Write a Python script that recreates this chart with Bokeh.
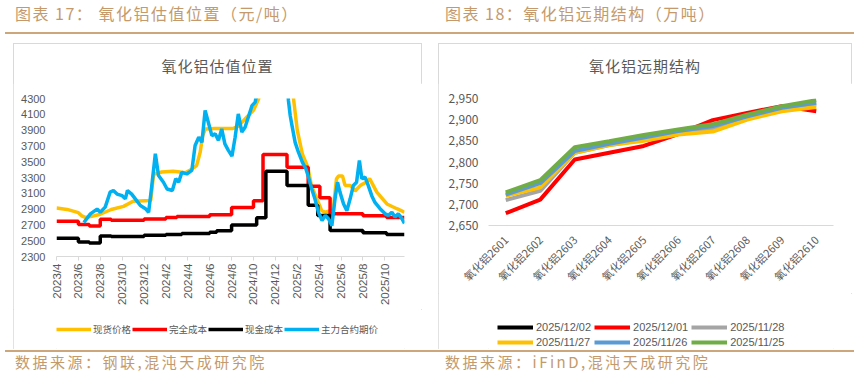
import math
import calendar
from bokeh.plotting import figure
from bokeh.models import (FixedTicker, Legend, LegendItem, Range1d, Div,
                          NumeralTickFormatter, FactorRange)
from bokeh.layouts import column, row
from bokeh.embed import file_html
from bokeh.resources import INLINE

# ---------------- data: left chart (元/吨) ----------------
left_tick_labels = ["2023/4", "2023/6", "2023/8", "2023/10", "2023/12", "2024/2", "2024/4",
                    "2024/6", "2024/8", "2024/10", "2024/12", "2025/2", "2025/4", "2025/6",
                    "2025/8", "2025/10"]
left_y_ticks = [2300, 2500, 2700, 2900, 3100, 3300, 3500, 3700, 3900, 4100, 4300]
left_last_date = "2025-11-25"
left_series_names = ["现货价格", "完全成本", "现金成本", "主力合约期价"]

spot_dates = ["2023-04-01", "2023-04-30", "2023-06-01", "2023-06-10", "2023-06-20", "2023-07-05",
              "2023-08-01", "2023-09-01", "2023-10-05", "2023-11-01", "2023-12-20", "2023-12-28",
              "2024-01-20", "2024-02-20", "2024-03-10", "2024-03-25", "2024-04-10", "2024-04-25",
              "2024-05-05", "2024-05-12", "2024-05-20", "2024-06-15", "2024-07-15", "2024-08-05",
              "2024-08-20", "2024-09-13", "2024-10-01", "2024-10-16", "2024-10-25", "2024-11-15",
              "2024-12-05", "2024-12-25", "2025-01-10", "2025-01-20", "2025-02-01", "2025-02-14",
              "2025-02-28", "2025-03-10", "2025-03-29", "2025-04-08", "2025-04-18", "2025-04-25",
              "2025-05-10", "2025-05-19", "2025-05-25", "2025-06-05", "2025-06-12", "2025-06-26",
              "2025-07-10", "2025-07-25", "2025-08-10", "2025-08-20", "2025-09-09", "2025-10-07",
              "2025-11-04", "2025-11-25"]
spot_vals = [2915, 2896, 2855, 2815, 2795, 2805, 2835, 2895, 2935, 3000, 3010, 3340,
             3370, 3380, 3370, 3360, 3400, 3450, 3620, 3830, 3915, 3920, 3920, 3920,
             3950, 4065, 4150, 4300, 4600, 5300, 5750, 5700, 5000, 4350, 3900, 3600,
             3430, 3200, 2990, 2880, 2860, 2870, 2890, 3280, 3320, 3320, 3200, 3200,
             3130, 3200, 3240, 3285, 3115, 2965, 2905, 2860]

full_dates = ["2023-04-01", "2023-06-01", "2023-07-01", "2023-08-01", "2023-09-01", "2023-12-01",
              "2024-02-01", "2024-03-01", "2024-06-01", "2024-08-01", "2024-10-01", "2024-10-28",
              "2025-01-03", "2025-03-01", "2025-04-03", "2025-05-01", "2025-08-01", "2025-10-06",
              "2025-11-25"]
full_vals = [2745, 2705, 2685, 2770, 2760, 2775, 2795, 2805, 2830, 2920, 3005, 3590,
             3430, 3190, 3045, 2840, 2815, 2795, 2795]

cash_dates = ["2023-04-01", "2023-06-01", "2023-07-01", "2023-08-01", "2023-09-01", "2023-12-01",
              "2024-02-01", "2024-03-15", "2024-06-01", "2024-06-20", "2024-08-01", "2024-10-10",
              "2024-11-05", "2025-01-03", "2025-03-01", "2025-03-28", "2025-05-01", "2025-08-01",
              "2025-10-06", "2025-11-25"]
cash_vals = [2530, 2485, 2470, 2560, 2552, 2570, 2578, 2590, 2608, 2625, 2700, 2790,
             3380, 3200, 2950, 2820, 2630, 2600, 2580, 2580]

fut_dates = ["2023-06-16", "2023-07-04", "2023-07-23", "2023-08-01", "2023-08-15", "2023-08-29",
             "2023-09-07", "2023-09-17", "2023-10-01", "2023-10-10", "2023-10-16", "2023-10-28",
             "2023-11-07", "2023-11-21", "2023-12-05", "2023-12-14", "2023-12-23", "2024-01-02",
             "2024-01-11", "2024-01-25", "2024-02-04", "2024-02-18", "2024-02-27", "2024-03-06",
             "2024-03-15", "2024-03-29", "2024-04-12", "2024-04-21", "2024-05-01", "2024-05-10",
             "2024-05-19", "2024-05-28", "2024-06-07", "2024-06-16", "2024-06-25", "2024-07-04",
             "2024-07-13", "2024-07-22", "2024-08-02", "2024-08-11", "2024-08-20", "2024-08-30",
             "2024-09-08", "2024-09-17", "2024-09-27", "2024-10-06", "2024-10-15", "2024-11-01",
             "2024-11-20", "2024-12-05", "2024-12-20", "2025-01-02", "2025-01-07", "2025-01-12",
             "2025-01-17", "2025-01-26", "2025-02-04", "2025-02-14", "2025-02-23", "2025-03-02",
             "2025-03-11", "2025-03-20", "2025-03-30", "2025-04-09", "2025-04-18", "2025-04-27",
             "2025-05-06", "2025-05-15", "2025-05-22", "2025-05-29", "2025-06-08", "2025-06-17",
             "2025-06-26", "2025-07-05", "2025-07-14", "2025-07-22", "2025-07-29", "2025-08-07",
             "2025-08-16", "2025-08-26", "2025-09-04", "2025-09-18", "2025-10-02", "2025-10-11",
             "2025-10-21", "2025-10-30", "2025-11-08", "2025-11-18", "2025-11-25"]
fut_vals = [2730, 2840, 2900, 2860, 2925, 3115, 3135, 3090, 3070, 3030, 3135, 3090,
            3030, 2945, 2905, 2860, 3200, 3600, 3325, 3240, 3155, 3135, 3285, 3240,
            3365, 3345, 3390, 3705, 3810, 3745, 4150, 4000, 3830, 3855, 3770, 3915,
            3725, 3650, 3570, 3810, 4105, 3875, 3935, 4065, 4210, 4255, 4500, 5000,
            5600, 5500, 5200, 4600, 4275, 4085, 3960, 3745, 3620, 3495, 3410, 3305,
            3155, 3030, 2860, 2755, 2820, 2775, 2690, 3030, 3240, 3115, 2965, 2880,
            3030, 3200, 3240, 3515, 3285, 3305, 3200, 3070, 2985, 2905, 2840, 2820,
            2860, 2800, 2840, 2780, 2720]

# ---------------- data: right chart ----------------
contracts = ["氧化铝2601", "氧化铝2602", "氧化铝2603", "氧化铝2604", "氧化铝2605",
             "氧化铝2606", "氧化铝2607", "氧化铝2608", "氧化铝2609", "氧化铝2610"]
curve_names = ["2025/12/02", "2025/12/01", "2025/11/28", "2025/11/27", "2025/11/26", "2025/11/25"]
nan = float("nan")
curve_1202 = [nan] * 10
curve_1201 = [2679, 2711, 2806, 2822, 2838, 2866, 2899, 2916, 2932, 2920]
curve_1128 = [2710, 2732, 2822, 2840, 2852, 2868, 2880, 2905, 2926, 2936]
curve_1127 = [2720, 2740, 2822, 2840, 2850, 2865, 2872, 2900, 2920, 2930]
curve_1126 = [2723, 2750, 2826, 2843, 2858, 2873, 2885, 2908, 2928, 2940]
curve_1125 = [2728, 2757, 2835, 2849, 2864, 2877, 2889, 2912, 2932, 2946]
right_y_ticks = [2650, 2700, 2750, 2800, 2850, 2900, 2950]

for a, b in [(spot_dates, spot_vals), (full_dates, full_vals), (cash_dates, cash_vals),
             (fut_dates, fut_vals)]:
    assert len(a) == len(b)

# ---------------- helpers ----------------
def month_index(s):
    y, m, d = (int(t) for t in s.split("-"))
    return (y - 2023) * 12 + (m - 4) + (d - 1) / calendar.monthrange(y, m)[1]

def label_month_index(lbl):
    y, m = lbl.split("/")
    return month_index(f"{y}-{int(m):02d}-01")

TAN = "#C49A6C"
LINE_TAN = "#CCA77B"
GRAY_TXT = "#595959"
AXIS_GRAY = "#D9D9D9"
CJK = "Noto Sans CJK SC"
LAT = "Liberation Sans"
BOX = {"outline": "1px solid #D9D9D9", "outline-offset": "-1px"}

def header(text, width, left):
    return Div(text=f'<span style="letter-spacing:1.5px">{text}</span>', width=width, height=34,
               margin=(0, 0, 0, left),
               styles={"border-bottom": f"2px solid {LINE_TAN}", "color": TAN,
                       "font-size": "16px", "font-family": CJK, "padding-left": f"{15 - left}px",
                       "padding-top": "3px", "line-height": "20px", "box-sizing": "border-box"})

def footer(text, width, left):
    return Div(text=f'<span style="letter-spacing:2.5px">{text}</span>', width=width, height=22,
               margin=(1, 0, 0, left),
               styles={"border-top": f"2px solid {LINE_TAN}", "color": TAN,
                       "font-size": "15px", "font-family": CJK, "padding-left": f"{15 - left}px",
                       "line-height": "20px", "box-sizing": "border-box"})

def chart_title(text, width):
    return Div(text=f'<span style="letter-spacing:1px">{text}</span>', width=width, height=40,
               margin=(0, 0, 0, 0),
               styles={"color": GRAY_TXT, "font-size": "15px", "font-family": CJK,
                       "text-align": "center", "padding-top": "13px", "line-height": "20px",
                       "box-sizing": "border-box", "width": f"{width}px"})

def legend_figure(width, height):
    f = figure(width=width, height=height, output_backend="svg", toolbar_location=None,
               x_range=Range1d(0, 1), y_range=Range1d(0, 1),
               x_axis_location=None, y_axis_location=None,
               min_border_left=0, min_border_right=0, min_border_top=0, min_border_bottom=0)
    f.outline_line_color = None
    f.grid.visible = False
    return f

# ---------------- left chart ----------------
x_end = month_index(left_last_date)
p1 = figure(width=409, height=226, output_backend="svg", toolbar_location=None,
            x_range=Range1d(0, x_end), y_range=Range1d(2300, 4300),
            min_border_left=43, min_border_right=18, min_border_top=15, min_border_bottom=53)
p1.outline_line_color = None
p1.xgrid.visible = False
p1.ygrid.visible = False

left_colors = ["#FFC000", "#FF0000", "#000000", "#00B0F0"]
p1.line([month_index(d) for d in spot_dates], spot_vals, line_color=left_colors[0], line_width=3.5)
p1.step([month_index(d) for d in full_dates], full_vals, mode="after", line_color=left_colors[1], line_width=3.5)
p1.step([month_index(d) for d in cash_dates], cash_vals, mode="after", line_color=left_colors[2], line_width=3.5)
p1.line([month_index(d) for d in fut_dates], fut_vals, line_color=left_colors[3], line_width=3.5)

xa = p1.xaxis[0]
xa.ticker = FixedTicker(ticks=[label_month_index(l) for l in left_tick_labels])
xa.major_label_overrides = {label_month_index(l): l for l in left_tick_labels}
xa.major_label_orientation = math.pi / 2
xa.major_label_text_font = LAT
xa.major_label_text_font_size = "11.5px"
xa.major_label_text_color = GRAY_TXT
xa.axis_line_color = AXIS_GRAY
xa.major_tick_line_color = AXIS_GRAY
xa.major_tick_out = 4
xa.major_tick_in = 0
xa.minor_tick_line_color = None
xa.major_label_standoff = 3

ya = p1.yaxis[0]
ya.ticker = FixedTicker(ticks=left_y_ticks)
ya.major_label_text_font = LAT
ya.major_label_text_font_size = "11px"
ya.major_label_text_color = GRAY_TXT
ya.axis_line_color = None
ya.major_tick_line_color = None
ya.minor_tick_line_color = None
ya.major_label_standoff = 5

# legend strip (its frame lines up with the chart frame above it)
lf1 = legend_figure(409, 40)
items1 = []
for name, col in zip(left_series_names, left_colors):
    r = lf1.line([nan, nan], [nan, nan], line_color=col, line_width=3.5)
    items1.append(LegendItem(label=name, renderers=[r]))
leg1 = Legend(items=items1, orientation="horizontal", location=(0, 13),
              label_text_font=CJK, label_text_font_size="9.5px", label_text_color=GRAY_TXT,
              glyph_width=35, glyph_height=10, spacing=1, padding=0, margin=0,
              label_standoff=2, label_height=12, border_line_color=None, background_fill_alpha=0)
lf1.add_layout(leg1)

box1 = column(chart_title("氧化铝估值位置", 409), p1, lf1, width=409, height=306,
              margin=(9, 0, 0, 13), styles=BOX)

# ---------------- right chart ----------------
p2 = figure(width=414, height=210, output_backend="svg", toolbar_location=None,
            x_range=FactorRange(factors=contracts), y_range=Range1d(2650, 2950),
            min_border_left=50, min_border_right=19, min_border_top=15, min_border_bottom=68)
p2.outline_line_color = None
p2.xgrid.visible = False
p2.ygrid.visible = False

curve_vals = [curve_1202, curve_1201, curve_1128, curve_1127, curve_1126, curve_1125]
curve_colors = ["#000000", "#FF0000", "#A5A5A5", "#FFC000", "#5B9BD5", "#70AD47"]
for vals, col in zip(curve_vals, curve_colors):
    p2.line(contracts, vals, line_color=col, line_width=4)

xb = p2.xaxis[0]
xb.major_label_orientation = math.pi / 4
xb.major_label_text_font = CJK
xb.major_label_text_font_size = "11px"
xb.major_label_text_color = GRAY_TXT
xb.axis_line_color = AXIS_GRAY
xb.major_tick_line_color = None
xb.minor_tick_line_color = None
xb.major_label_standoff = 6

yb = p2.yaxis[0]
yb.ticker = FixedTicker(ticks=right_y_ticks)
yb.formatter = NumeralTickFormatter(format="0,0")
yb.major_label_text_font = CJK
yb.major_label_text_font_size = "12px"
yb.major_label_text_color = GRAY_TXT
yb.axis_line_color = None
yb.major_tick_line_color = None
yb.minor_tick_line_color = None
yb.major_label_standoff = 4

lf2 = legend_figure(414, 56)
items2 = []
for name, col in zip(curve_names, curve_colors):
    r = lf2.line([nan, nan], [nan, nan], line_color=col, line_width=4)
    items2.append(LegendItem(label=name, renderers=[r]))
leg2 = Legend(items=items2, orientation="horizontal", ncols=3, location=(9, 1),
              label_text_font=LAT, label_text_font_size="11px", label_text_color=GRAY_TXT,
              glyph_width=36, glyph_height=10, spacing=3, padding=0, margin=0,
              label_standoff=3, label_height=12, border_line_color=None, background_fill_alpha=0)
lf2.add_layout(leg2)

box2 = column(chart_title("氧化铝远期结构", 414), p2, lf2, width=414, height=306,
              margin=(9, 0, 0, 8), styles=BOX)

# ---------------- layout ----------------
left_col = column(header("图表 17：  氧化铝估值位置（元/吨）", 425, 5), box1,
                  footer("数据来源：钢联,混沌天成研究院", 425, 5), width=430)
right_col = column(header("图表 18：氧化铝远期结构（万吨）", 424, 0), box2,
                   footer("数据来源：iFinD,混沌天成研究院", 424, 0), width=428)
layout = row(left_col, right_col)

open("out.html", "w").write(file_html(layout, INLINE))
